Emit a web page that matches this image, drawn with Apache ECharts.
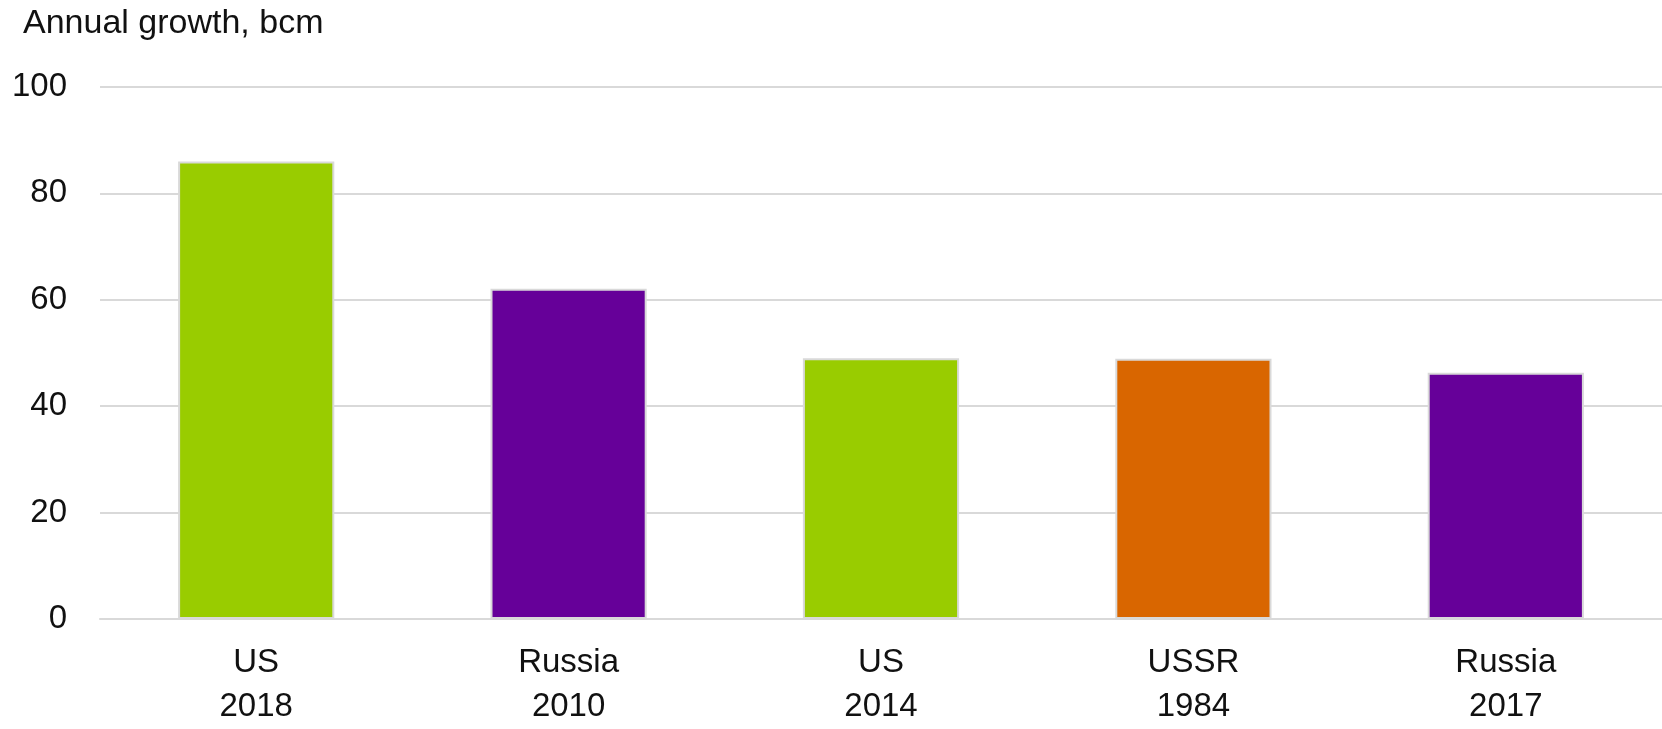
<!DOCTYPE html>
<html>
<head>
<meta charset="utf-8">
<script src="https://cdn.jsdelivr.net/npm/echarts@6/dist/echarts.min.js"></script>
<style>
html,body{margin:0;padding:0;background:#fff;}
#c{width:1662px;height:729px;}
</style>
</head>
<body>
<div id="c"></div>
<script>
const categories = ['US\n2018', 'Russia\n2010', 'US\n2014', 'USSR\n1984', 'Russia\n2017'];
const values = [86, 62.1, 49, 48.9, 46.3];
const barColors = ['#99cc00', '#660099', '#99cc00', '#d96600', '#660099'];
const yTicks = { min: 0, max: 100, interval: 20 };
const titleText = 'Annual growth, bcm';

const FONT = '"Liberation Sans", Arial, sans-serif';
const chart = echarts.init(document.getElementById('c'));
chart.setOption({
  animation: false,
  title: {
    text: titleText, left: 18, top: 2,
    textStyle: { fontFamily: FONT, fontSize: 34, fontWeight: 'normal', color: '#111' }
  },
  grid: { left: 100, right: 0, top: 87, bottom: 102, containLabel: false },
  xAxis: {
    type: 'category', data: categories,
    axisLine: { show: true, lineStyle: { color: '#d9d9d9', width: 2 } },
    axisTick: { show: false },
    axisLabel: { fontFamily: FONT, fontSize: 33, color: '#111', lineHeight: 44, margin: 22 }
  },
  yAxis: {
    type: 'value', min: yTicks.min, max: yTicks.max, interval: yTicks.interval,
    axisLine: { show: false }, axisTick: { show: false },
    splitLine: { lineStyle: { color: '#d9d9d9', width: 2 } },
    axisLabel: { fontFamily: FONT, fontSize: 33, color: '#111', margin: 33 }
  },
  series: [{
    type: 'bar', barWidth: '50%',
    data: values.map((v, i) => ({ value: v, itemStyle: { color: barColors[i] } })),
    itemStyle: { borderColor: '#d9d9d9', borderWidth: 2 }
  }]
});
</script>
</body>
</html>
